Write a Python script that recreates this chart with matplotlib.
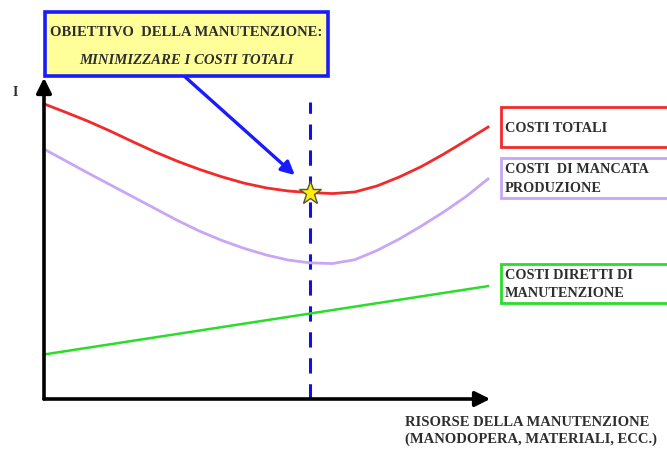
import matplotlib.pyplot as plt
from matplotlib.patches import Rectangle

# risorse della manutenzione (scala relativa 0-100)
risorse = [0, 5, 10, 15, 20, 25, 30, 35, 40, 45, 50,
           55, 60, 65, 70, 75, 80, 85, 90, 95, 100]
costi_totali = [92.8, 90.1, 87.3, 84.2, 80.9, 77.7, 74.8, 72.2, 69.9, 67.9, 66.4,
                65.4, 64.9, 64.6, 65.1, 67.0, 69.8, 73.1, 77.0, 81.2, 85.5]
costi_mancata_prod = [78.6, 74.8, 71.0, 67.3, 63.6, 59.9, 56.2, 52.8, 49.9, 47.4, 45.3,
                      43.7, 42.8, 42.6, 43.8, 46.7, 50.3, 54.4, 58.8, 63.6, 69.2]
risorse_dirette = [0, 100]
costi_diretti = [14, 35.5]

# punto di ottimo (minimo dei costi totali)
x_ottimo = 60
y_ottimo = 64.9

etichette = ["COSTI TOTALI", "COSTI  DI MANCATA\nPRODUZIONE", "COSTI DIRETTI DI\nMANUTENZIONE"]
colori = ["#f22a2a", "#c9a6f5", "#2bdc2b"]

W, H = 667, 452
fig = plt.figure(figsize=(W / 100, H / 100), dpi=100)

# assi del grafico: origine a (44, 400) px
ax = fig.add_axes([44 / W, 52 / H, 444 / W, 318 / H])
ax.set_xlim(0, 100)
ax.set_ylim(0, 100)
ax.axis("off")

ax.plot(risorse, costi_totali, color=colori[0], lw=2.0, clip_on=False, zorder=3)
ax.plot(risorse, costi_mancata_prod, color=colori[1], lw=2.0, clip_on=False, zorder=3)
ax.plot(risorse_dirette, costi_diretti, color=colori[2], lw=1.8, clip_on=False, zorder=3)

ax.plot([x_ottimo, x_ottimo], [0, 93.4], color="#1010e8", lw=2.2,
        dashes=(5, 3.5), clip_on=False, zorder=2)
ax.plot([x_ottimo], [y_ottimo], marker="*", ms=17, mfc="#ffee00", mec="#555533",
        mew=1.0, clip_on=False, zorder=5)

# frecce degli assi
frecce = dict(arrowstyle="-|>,head_length=0.9,head_width=0.45", color="black",
              lw=2.6, shrinkA=0, shrinkB=0)
ax.annotate("", xy=(0, 101), xytext=(0, 0), arrowprops=frecce, annotation_clip=False)
ax.annotate("", xy=(100.5, 0), xytext=(0, 0), arrowprops=frecce, annotation_clip=False)

# livello decorativo in pixel
ov = fig.add_axes([0, 0, 1, 1], facecolor="none")
ov.set_xlim(0, W)
ov.set_ylim(H, 0)
ov.axis("off")

txt = dict(family="Liberation Serif", weight="bold", color="#2e2e2e")

ov.add_patch(Rectangle((45, 13), 283, 64, facecolor="#ffff99", edgecolor="#1a1aff",
                       lw=2.6, zorder=4))
ov.text(186, 32, "OBIETTIVO  DELLA MANUTENZIONE:", ha="center", va="center",
        fontsize=10.5, zorder=5, **txt)
ov.text(186, 60, "MINIMIZZARE I COSTI TOTALI", ha="center", va="center",
        fontsize=10.6, style="italic", zorder=5, **txt)

ax.annotate("", xy=(56.5, 70.4), xytext=(183 / W, 1 - 76 / H), textcoords="figure fraction",
            arrowprops=dict(arrowstyle="-|>,head_length=0.8,head_width=0.4",
                            color="#1a1aff", lw=2.4, shrinkA=0, shrinkB=0),
            annotation_clip=False, zorder=4)

# riquadri delle curve
riquadri = [(108, 40), (159, 40), (265, 39)]
for (top, h), lab, col in zip(riquadri, etichette, colori):
    ov.add_patch(Rectangle((501, top), 180, h, facecolor="white", edgecolor=col,
                           lw=2.0, clip_on=False))
    ov.text(505, top + h / 2, lab, ha="left", va="center", fontsize=10.3,
            linespacing=1.55, **txt)

ov.text(15, 93, "I", ha="center", va="center", fontsize=10, **txt)
ov.text(405, 431, "RISORSE DELLA MANUTENZIONE\n(MANODOPERA, MATERIALI, ECC.)",
        ha="left", va="center", fontsize=10.5, linespacing=1.25, **txt)

fig.savefig("out.png", dpi=100, facecolor="white")
